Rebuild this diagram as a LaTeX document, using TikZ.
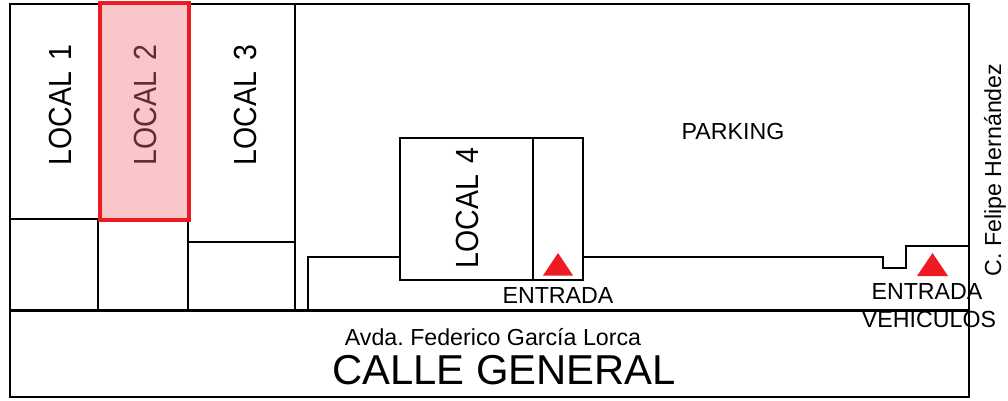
\documentclass[tikz,border=0pt]{standalone}
\usepackage{fontspec}
\setmainfont{Liberation Sans}
\definecolor{redline}{HTML}{ED1C24}
\definecolor{pinkfill}{HTML}{F9C6C9}
\definecolor{duskred}{HTML}{5E2E30}
\newcommand{\roomtext}[1]{\scalebox{0.89}[1]{LOCAL\hspace{13pt}#1}}
\tikzset{
  wall/.style={draw=black,line width=2pt,line join=miter},
  thin wall/.style={draw=black,line width=2pt},
  roomlabel/.style={rotate=90,font=\fontsize{32}{32}\selectfont,text=black,inner sep=0pt,anchor=center},
  small/.style={font=\fontsize{23.2}{23.2}\selectfont,text=black,inner sep=0pt},
  marker/.style={fill=redline,draw=none}
}
\begin{document}
\frenchspacing
\begin{tikzpicture}[x=1pt,y=-1pt]
\useasboundingbox (0,0) rectangle (1008,400);
\fill[white] (0,0) rectangle (1008,400);
% outer
\draw[wall] (9.5,3.5) rectangle (969,397);
\draw[wall,line width=2.4pt] (9.5,310.5) -- (969,310.5);
% local dividers
\draw[thin wall] (9.5,219) -- (99,219);
\draw[thin wall] (98.2,219) -- (98.2,310);
\draw[wall,line width=2.4pt] (188.2,220) -- (188.2,242);
\draw[thin wall] (188.2,242) -- (188.2,310);
\draw[thin wall] (188.2,242) -- (294.5,242);
\draw[wall] (294.5,3.5) -- (294.5,310);
% local 2
\draw[draw=redline,fill=pinkfill,line width=4pt] (99.7,3) rectangle (188.7,219.7);
% building 4
\draw[wall] (307.5,310) -- (307.5,257) -- (399.5,257);
\draw[wall] (399.5,138) rectangle (583,280);
\draw[wall] (532.5,138) -- (532.5,280);
\draw[wall] (583,257) -- (883,257) -- (883,267.5) -- (905.5,267.5) -- (905.5,245.5) -- (969,245.5);
% markers
\fill[marker] (543,275.5) -- (558,253) -- (573,275.5) -- cycle;
\fill[marker] (917,276) -- (932.5,253) -- (948,276) -- cycle;
% labels
\node[roomlabel] (l1) at (60,105) {\roomtext{1}};
\node[roomlabel,text=duskred] (l2) at (145,105) {\roomtext{2}};
\node[roomlabel] (l3) at (245,105) {\roomtext{3}};
\node[roomlabel] (l4) at (467,208) {\roomtext{4}};
\node[small] (park) at (733,132) {PARKING};
\node[small] (ent) at (558,296) {ENTRADA};
\node[small] (ent2) at (927,292) {ENTRADA};
\node[small] (veh) at (929,320) {VEHICULOS};
\node[small,rotate=90] (fel) at (995,170) {C. Felipe Hernández};
\node[small] (avda) at (493,337) {Avda. Federico García Lorca};
\node[font=\fontsize{41.8}{41.8}\selectfont,inner sep=0pt] (cg) at (504,370) {CALLE GENERAL};
\end{tikzpicture}
\end{document}
